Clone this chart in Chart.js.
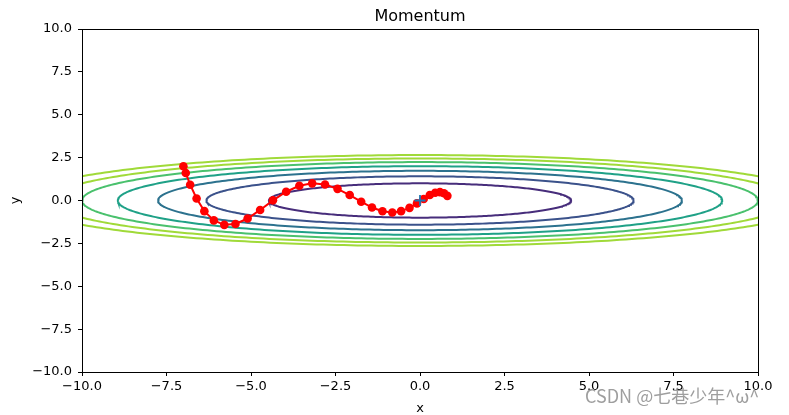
<!DOCTYPE html>
<html>
<head>
<meta charset="utf-8">
<script src="https://cdn.jsdelivr.net/npm/chart.js@4/dist/chart.umd.min.js"></script>
<style>
html,body{margin:0;padding:0;background:#fff;}
#wrap{width:789px;height:415px;position:relative;}
</style>
</head>
<body>
<div id="wrap"><canvas id="c" width="789" height="415"></canvas></div>
<script>
// ---- data ----
const pathX = [-7.00,-6.93,-6.80,-6.61,-6.38,-6.10,-5.79,-5.46,-5.10,-4.73,-4.35,-3.96,-3.57,-3.19,-2.81,-2.44,-2.08,-1.74,-1.42,-1.11,-0.82,-0.56,-0.31,-0.09,0.11,0.29,0.45,0.59,0.71,0.81];
const pathY = [2.00,1.60,0.92,0.12,-0.62,-1.16,-1.42,-1.37,-1.05,-0.55,0.01,0.51,0.86,1.00,0.93,0.68,0.32,-0.07,-0.41,-0.63,-0.70,-0.62,-0.43,-0.17,0.09,0.32,0.45,0.49,0.42,0.27];
const contourLevels = [1, 2, 3, 4, 5, 6, 7];
const contourXRadius = [4.47, 6.32, 7.75, 8.94, 10.0, 10.95, 11.83];
const contourYRadius = [1.00, 1.41, 1.73, 2.00, 2.24, 2.45, 2.65];
const contourColors = ['#472d7b', '#3b528b', '#2c728e', '#1fa187', '#4ac16d', '#a0da39', '#a0da39'];
const xTicks = [-10, -7.5, -5, -2.5, 0, 2.5, 5, 7.5, 10];
const yTicks = [-10, -7.5, -5, -2.5, 0, 2.5, 5, 7.5, 10];
const xTickLabels = ['\u221210.0','\u22127.5','\u22125.0','\u22122.5','0.0','2.5','5.0','7.5','10.0'];
const yTickLabels = ['\u221210.0','\u22127.5','\u22125.0','\u22122.5','0.0','2.5','5.0','7.5','10.0'];
const minimum = {x: 0, y: 0};

// ---- build datasets ----
function ellipsePoints(a, b) {
  const pts = [];
  const n = 360;
  for (let i = 0; i <= n; i++) {
    const t = 2 * Math.PI * i / n;
    pts.push({x: a * Math.cos(t), y: b * Math.sin(t)});
  }
  return pts;
}
const datasets = [];
datasets.push({
  label: 'min', data: [minimum], showLine: false, order: -2,
  pointStyle: 'cross', pointRadius: 5.5, pointHoverRadius: 5.5, pointBorderWidth: 1.8,
  borderColor: '#1f77b4', backgroundColor: '#1f77b4'
});
datasets.push({
  label: 'path', data: pathX.map((x, i) => ({x: x, y: pathY[i]})), showLine: true, order: -1,
  borderColor: '#ff0000', backgroundColor: '#ff0000', borderWidth: 2,
  pointRadius: 4.3, pointBorderWidth: 0, pointHoverRadius: 4.3, tension: 0
});
contourLevels.forEach((lv, i) => {
  datasets.push({
    label: 'level ' + lv, data: ellipsePoints(contourXRadius[i], contourYRadius[i]),
    showLine: true, borderColor: contourColors[i], borderWidth: 2, order: 0,
    pointRadius: 0, pointHoverRadius: 0, tension: 0, clip: 0
  });
});

const frame = {
  id: 'frame',
  afterDraw(chart) {
    const ctx = chart.ctx, a = chart.chartArea;
    ctx.save();
    ctx.strokeStyle = '#000';
    ctx.lineWidth = 1;
    ctx.strokeRect(a.left + 0.5, a.top + 0.5, a.right - a.left, a.bottom - a.top);
    ctx.fillStyle = '#000';
    ctx.textAlign = 'center';
    ctx.textBaseline = 'alphabetic';
    ctx.font = '16px "DejaVu Sans"';
    ctx.fillText('Momentum', (a.left + a.right) / 2, 21);
    ctx.font = '13px "DejaVu Sans"';
    ctx.fillText('x', (a.left + a.right) / 2, 412);
    ctx.save();
    ctx.translate(19, (a.top + a.bottom) / 2);
    ctx.rotate(-Math.PI / 2);
    ctx.fillText('y', 0, 0);
    ctx.restore();
    ctx.font = '18px "Noto Sans CJK SC", "Noto Sans", sans-serif';
    ctx.fillStyle = 'rgba(125,125,125,0.75)';
    ctx.textAlign = 'left';
    ctx.textBaseline = 'middle';
    ctx.fillText('CSDN @七巷少年^ω^', 585, 396);
    ctx.restore();
  }
};

new Chart(document.getElementById('c'), {
  type: 'scatter',
  data: {datasets: datasets},
  options: {
    responsive: false, animation: false, devicePixelRatio: 1,
    layout: {padding: {left: 0, top: 29, right: 31, bottom: 0}},
    plugins: {legend: {display: false}, tooltip: {enabled: false}, title: {display: false}},
    scales: {
      x: {
        type: 'linear', min: -10, max: 10,
        afterBuildTicks: s => { s.ticks = xTicks.map(v => ({value: v})); },
        afterFit: s => { s.height = 43; },
        ticks: {
          color: '#000', font: {family: 'DejaVu Sans', size: 13}, padding: 3, maxRotation: 0,
          callback: (v) => { const i = xTicks.indexOf(v); return i >= 0 ? xTickLabels[i] : ''; }
        },
        grid: {drawOnChartArea: false, drawTicks: true, tickLength: 4, color: '#000', lineWidth: 1},
        border: {display: false}
      },
      y: {
        type: 'linear', min: -10, max: 10,
        afterBuildTicks: s => { s.ticks = yTicks.map(v => ({value: v})); },
        afterFit: s => { s.width = 82; },
        ticks: {
          color: '#000', font: {family: 'DejaVu Sans', size: 13}, padding: 6,
          callback: (v) => { const i = yTicks.indexOf(v); return i >= 0 ? yTickLabels[i] : ''; }
        },
        grid: {drawOnChartArea: false, drawTicks: true, tickLength: 4, color: '#000', lineWidth: 1},
        border: {display: false}
      }
    }
  },
  plugins: [frame]
});
</script>
</body>
</html>
